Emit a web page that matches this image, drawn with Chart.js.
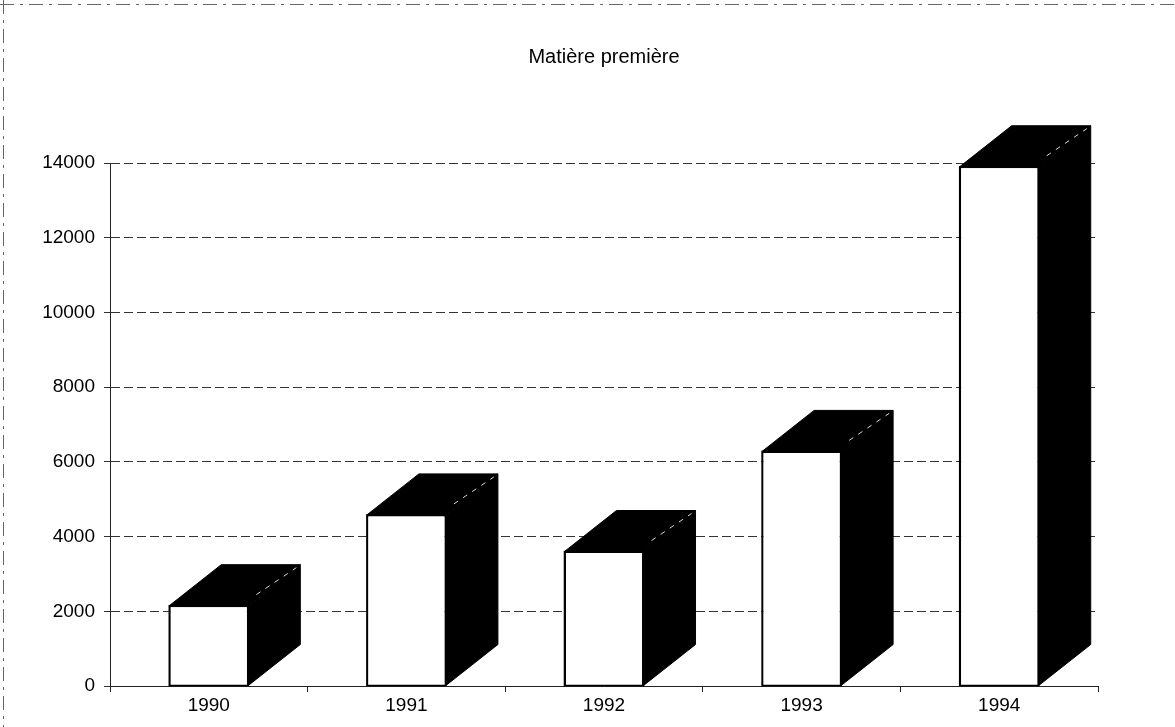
<!DOCTYPE html>
<html>
<head>
<meta charset="utf-8">
<script src="https://cdn.jsdelivr.net/npm/chart.js@4.4.1/dist/chart.umd.min.js"></script>
<style>
  html, body { margin: 0; padding: 0; background: #fff; }
  #wrap { width: 1175px; height: 727px; }
</style>
</head>
<body>
<div id="wrap"><canvas id="myChart"></canvas></div>
<script>
const years = ['1990', '1991', '1992', '1993', '1994'];
const values = [2150, 4580, 3600, 6280, 13900];
const yTicks = [0, 2000, 4000, 6000, 8000, 10000, 12000, 14000];

// depth of the fake 3D block, in pixels
const DEPTH_X = 52;
const DEPTH_Y = 41;

const block3d = {
    id: 'block3d',
    afterDatasetsDraw(chart) {
        const ctx = chart.ctx;
        const meta = chart.getDatasetMeta(0);
        ctx.save();
        meta.data.forEach(bar => {
            const L = bar.x - bar.width / 2;
            const R = bar.x + bar.width / 2;
            const T = bar.y;
            const B = bar.base;
            ctx.fillStyle = '#000';
            ctx.strokeStyle = '#000';
            ctx.lineWidth = 1;
            // top face
            ctx.beginPath();
            ctx.moveTo(L, T);
            ctx.lineTo(L + DEPTH_X, T - DEPTH_Y);
            ctx.lineTo(R + DEPTH_X, T - DEPTH_Y);
            ctx.lineTo(R, T);
            ctx.closePath();
            ctx.fill();
            ctx.stroke();
            // side face
            ctx.beginPath();
            ctx.moveTo(R, T);
            ctx.lineTo(R + DEPTH_X, T - DEPTH_Y);
            ctx.lineTo(R + DEPTH_X, B - DEPTH_Y);
            ctx.lineTo(R, B);
            ctx.closePath();
            ctx.fill();
            ctx.stroke();
            // faint light edge between top and side
            ctx.strokeStyle = 'rgba(255,255,255,0.85)';
            ctx.setLineDash([5, 6]);
            ctx.beginPath();
            ctx.moveTo(R + 8, T - 11);
            ctx.lineTo(R - 4 + DEPTH_X, T - DEPTH_Y + 3);
            ctx.stroke();
            ctx.setLineDash([]);
            // redraw front outline
            ctx.strokeStyle = '#000';
            ctx.lineWidth = 1.5;
            ctx.strokeRect(L, T, R - L, B - T);
        });
        ctx.restore();
    },
    beforeDraw(chart) {
        const ctx = chart.ctx;
        ctx.save();
        ctx.strokeStyle = '#666';
        ctx.lineWidth = 1;
        ctx.setLineDash([14, 6, 3, 6]);
        ctx.beginPath();
        ctx.moveTo(0, 4.5);
        ctx.lineTo(chart.width, 4.5);
        ctx.moveTo(3.5, 0);
        ctx.lineTo(3.5, chart.height);
        ctx.stroke();
        ctx.restore();
    }
};

const graph = document.getElementById('myChart');

var barGraph = new Chart(graph, {
    type: 'bar',
    data: {
        labels: years,
        datasets: [{
            label: 'Matière première',
            data: values,
            backgroundColor: '#fff',
            borderColor: '#000',
            borderWidth: 1.5,
            categoryPercentage: 0.8,
            barPercentage: 0.5
        }]
    },
    options: {
        responsive: true,
        maintainAspectRatio: false,
        animation: false,
        layout: {
            padding: { left: 0, right: 77, top: 0, bottom: 0 }
        },
        plugins: {
            legend: { display: false },
            tooltip: { enabled: false },
            title: {
                display: true,
                fullSize: false,
                text: 'Matière première',
                color: '#000',
                font: { family: 'Liberation Sans', size: 20, weight: 'normal' },
                padding: { top: 45, bottom: 94 }
            }
        },
        scales: {
            x: {
                afterFit(scale) { scale.height = 41; },
                grid: {
                    drawOnChartArea: false,
                    drawTicks: true,
                    tickLength: 6,
                    color: '#222'
                },
                border: { color: '#222', width: 1 },
                ticks: {
                    color: '#000',
                    padding: 2,
                    font: { family: 'Liberation Sans', size: 19 }
                }
            },
            y: {
                min: 0,
                max: 14000,
                afterFit(scale) { scale.width = 110; },
                afterBuildTicks(scale) {
                    scale.ticks = yTicks.map(v => ({ value: v }));
                },
                grid: {
                    color: '#333',
                    lineWidth: 1,
                    tickLength: 6,
                    drawTicks: true
                },
                border: { color: '#222', width: 1, dash: [9, 4] },
                ticks: {
                    color: '#000',
                    padding: 9,
                    font: { family: 'Liberation Sans', size: 19 },
                    callback: v => String(v)
                }
            }
        }
    },
    plugins: [block3d]
});
</script>
</body>
</html>
